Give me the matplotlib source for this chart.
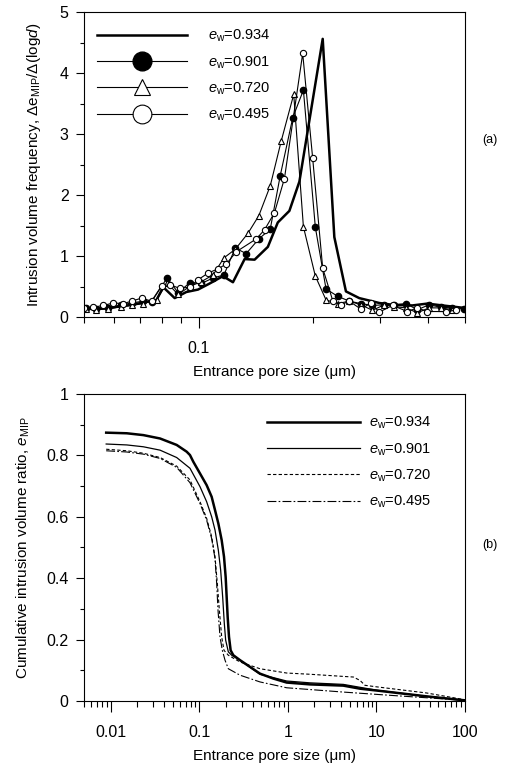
import numpy as np
import matplotlib
matplotlib.use('Agg')
import matplotlib.pyplot as plt
from matplotlib.ticker import FixedLocator, FixedFormatter, NullFormatter, MultipleLocator, LogLocator

plt.rcParams['font.family'] = ['Liberation Sans', 'DejaVu Sans']
plt.rcParams['mathtext.fontset'] = 'custom'
plt.rcParams['mathtext.rm'] = 'Liberation Sans'
plt.rcParams['mathtext.it'] = 'Liberation Sans:italic'
plt.rcParams['font.size'] = 11

# ---- (a) intrusion volume frequency ----
labels = ['0.934', '0.901', '0.720', '0.495']

x934 = [0.0506, 0.0579, 0.0667, 0.0775, 0.0807, 0.0865, 0.0928, 0.0996, 0.1069, 0.1158,
        0.1230, 0.1320, 0.1402, 0.1519, 0.1613, 0.1730, 0.1838, 0.2116, 0.2270, 0.2435,
        0.2639, 0.2978, 0.3227, 0.364, 0.3981, 0.436, 0.4967]
y934 = [0.13, 0.15, 0.20, 0.28, 0.49, 0.31, 0.41, 0.45, 0.55, 0.67,
        0.57, 0.95, 0.94, 1.15, 1.55, 1.74, 2.22, 4.56, 1.31, 0.42,
        0.31, 0.23, 0.20, 0.19, 0.22, 0.19, 0.15]

x901 = [0.0506, 0.0536, 0.0579, 0.0627, 0.0667, 0.0715, 0.0752, 0.0826, 0.0883, 0.0947,
        0.1016, 0.1091, 0.1165, 0.1247, 0.1333, 0.1438, 0.1541, 0.1636, 0.1766, 0.1883,
        0.2024, 0.2159, 0.2316, 0.2485, 0.2665, 0.2859, 0.3069, 0.3259, 0.3497, 0.3750,
        0.4025, 0.4318, 0.4634, 0.4967]
y901 = [0.147, 0.131, 0.147, 0.20, 0.23, 0.26, 0.25, 0.64, 0.40, 0.56,
        0.55, 0.64, 0.69, 1.13, 1.04, 1.28, 1.44, 2.31, 3.27, 3.72,
        1.47, 0.46, 0.34, 0.26, 0.22, 0.19, 0.20, 0.20, 0.22, 0.12,
        0.20, 0.16, 0.15, 0.13]

x720 = [0.0506, 0.0536, 0.0579, 0.0627, 0.0667, 0.0715, 0.0775, 0.0826, 0.0883, 0.0947,
        0.1016, 0.1091, 0.1165, 0.1247, 0.1346, 0.1438, 0.1541, 0.1646, 0.1776, 0.1883,
        0.2024, 0.2159, 0.2316, 0.2485, 0.2665, 0.2859, 0.3069, 0.3259, 0.3497, 0.3750,
        0.4025, 0.4318, 0.4634]
y720 = [0.13, 0.12, 0.13, 0.17, 0.19, 0.22, 0.28, 0.56, 0.37, 0.50,
        0.58, 0.69, 0.97, 1.11, 1.37, 1.66, 2.15, 2.88, 3.65, 1.48,
        0.67, 0.28, 0.22, 0.26, 0.20, 0.11, 0.20, 0.17, 0.15, 0.07,
        0.15, 0.15, 0.12]

x495 = [0.0500, 0.0529, 0.0562, 0.0597, 0.0634, 0.0667, 0.0708, 0.0752, 0.0799, 0.0840,
        0.0891, 0.0947, 0.0996, 0.1058, 0.1124, 0.1182, 0.1255, 0.1416, 0.1489, 0.1581,
        0.1679, 0.1875, 0.1991, 0.2116, 0.2248, 0.2364, 0.2485, 0.2665, 0.2832, 0.2978,
        0.3227, 0.3531, 0.3750, 0.3981, 0.4447, 0.4729]
y495 = [0.15, 0.16, 0.19, 0.23, 0.22, 0.26, 0.31, 0.26, 0.51, 0.53,
        0.47, 0.49, 0.61, 0.72, 0.79, 0.87, 1.07, 1.28, 1.43, 1.71,
        2.27, 4.32, 2.61, 0.80, 0.27, 0.20, 0.26, 0.13, 0.23, 0.08,
        0.19, 0.09, 0.15, 0.09, 0.09, 0.11]

# ---- (b) cumulative intrusion volume ratio ----
cx934 = [0.0089, 0.0152, 0.0234, 0.0361, 0.0556, 0.0721, 0.0786, 0.0858, 0.102, 0.1212,
         0.1381, 0.1506, 0.1643, 0.1791, 0.1903, 0.1987, 0.2039, 0.2093, 0.2167, 0.2262,
         0.2425, 0.2884, 0.3741, 0.485, 0.686, 0.97, 1.78, 4.23, 6.53, 10.07, 36.9, 100]
cy934 = [0.874, 0.872, 0.866, 0.855, 0.834, 0.812, 0.801, 0.779, 0.741, 0.703,
         0.665, 0.622, 0.578, 0.524, 0.470, 0.404, 0.339, 0.274, 0.209, 0.165,
         0.149, 0.133, 0.111, 0.089, 0.073, 0.060, 0.054, 0.050, 0.040, 0.034, 0.015, 0.002]

cx901 = [0.0089, 0.0152, 0.0234, 0.0361, 0.0556, 0.0786, 0.102, 0.1212, 0.1381, 0.1506,
         0.1643, 0.1745, 0.1838, 0.1919, 0.1987, 0.2130, 0.2322, 0.2884, 0.485, 0.97,
         1.78, 4.23, 10.07, 36.9, 100]
cy901 = [0.837, 0.834, 0.828, 0.817, 0.793, 0.758, 0.698, 0.649, 0.600, 0.557,
         0.491, 0.426, 0.339, 0.252, 0.198, 0.160, 0.149, 0.133, 0.087, 0.065,
         0.059, 0.054, 0.035, 0.015, 0.002]

cx720 = [0.0089, 0.0152, 0.0234, 0.0361, 0.0556, 0.0786, 0.102, 0.1212, 0.1381, 0.1506,
         0.160, 0.1686, 0.1791, 0.1903, 0.2130, 0.2884, 0.485, 0.97, 1.78, 4.23,
         5.49, 6.53, 7.43, 10.07, 36.9, 100]
cy720 = [0.820, 0.815, 0.807, 0.793, 0.765, 0.720, 0.649, 0.595, 0.535, 0.470,
         0.383, 0.296, 0.209, 0.165, 0.149, 0.127, 0.105, 0.091, 0.087, 0.080,
         0.078, 0.067, 0.051, 0.046, 0.026, 0.004]

cx495 = [0.0089, 0.0152, 0.0234, 0.0361, 0.0556, 0.0786, 0.102, 0.1212, 0.1381, 0.1506,
         0.1573, 0.1628, 0.1715, 0.1822, 0.1953, 0.2130, 0.2884, 0.485, 0.97, 4.23,
         15, 100]
cy495 = [0.815, 0.811, 0.804, 0.790, 0.761, 0.711, 0.643, 0.589, 0.529, 0.464,
         0.383, 0.296, 0.209, 0.165, 0.133, 0.105, 0.084, 0.062, 0.043, 0.029,
         0.018, 0.002]

fig = plt.figure(figsize=(5.26, 7.65), dpi=100)
ax1 = fig.add_axes([0.1597, 0.5856, 0.7243, 0.3987])
ax2 = fig.add_axes([0.1597, 0.0837, 0.7243, 0.4013])

lw = 0.8
ax1.plot(x934, y934, color='black', lw=1.8, label=r'$e_{\rm w}$=' + labels[0])
ax1.plot(x901, y901, color='black', lw=lw, marker='o', ms=4.5, mfc='black', mec='black',
         label=r'$e_{\rm w}$=' + labels[1])
ax1.plot(x720, y720, color='black', lw=lw, marker='^', ms=4, mfc='white', mec='black', mew=0.8,
         label=r'$e_{\rm w}$=' + labels[2])
ax1.plot(x495, y495, color='black', lw=lw, marker='o', ms=4.5, mfc='white', mec='black', mew=0.8,
         label=r'$e_{\rm w}$=' + labels[3])

ax1.set_xscale('log')
ax1.set_xlim(0.05, 0.5)
ax1.set_ylim(0, 5)
ax1.xaxis.set_major_locator(FixedLocator([0.1]))
ax1.xaxis.set_major_formatter(FixedFormatter(['0.1']))
ax1.xaxis.set_minor_locator(FixedLocator([0.05, 0.06, 0.07, 0.08, 0.09, 0.2, 0.3, 0.4, 0.5]))
ax1.xaxis.set_minor_formatter(NullFormatter())
ax1.yaxis.set_major_locator(MultipleLocator(1))
ax1.yaxis.set_minor_locator(MultipleLocator(0.5))
ax1.set_xlabel('Entrance pore size (μm)', labelpad=7)
ax1.set_ylabel(r'Intrusion volume frequency, $\Delta$e$_{\rm MIP}$/$\Delta$(log$d$)', labelpad=12)
ax1.legend(loc='upper left', bbox_to_anchor=(0.034, 0.948), borderpad=0, borderaxespad=0,
           frameon=False, handlelength=6.2, handletextpad=1.4, labelspacing=0.68,
           markerscale=3.0, fontsize=10.5)

styles = [dict(lw=1.8, ls='-'), dict(lw=0.9, ls='-'), dict(lw=0.8, ls=(0, (3, 2))),
          dict(lw=0.8, ls=(0, (8, 2, 1.5, 2)))]
for (cx, cy), lab, st in zip([(cx934, cy934), (cx901, cy901), (cx720, cy720), (cx495, cy495)],
                             labels, styles):
    ax2.plot(cx, cy, color='black', label=r'$e_{\rm w}$=' + lab, **st)

ax2.set_xscale('log')
ax2.set_xlim(0.005, 100)
ax2.set_ylim(0, 1)
ax2.set_xticks([0.01, 0.1, 1, 10, 100])
ax2.set_xticklabels(['0.01', '0.1', '1', '10', '100'])
ax2.xaxis.set_minor_locator(LogLocator(base=10, subs=np.arange(2, 10), numticks=20))
ax2.xaxis.set_minor_formatter(NullFormatter())
ax2.set_yticks([0, 0.2, 0.4, 0.6, 0.8, 1.0])
ax2.set_yticklabels(['0', '0.2', '0.4', '0.6', '0.8', '1'])
ax2.yaxis.set_minor_locator(MultipleLocator(0.1))
ax2.set_xlabel('Entrance pore size (μm)', labelpad=7)
ax2.set_ylabel(r'Cumulative intrusion volume ratio, $e_{\rm MIP}$', labelpad=10)
ax2.legend(loc='upper left', bbox_to_anchor=(0.48, 0.932), borderpad=0, borderaxespad=0,
           frameon=False, handlelength=6.4, handletextpad=0.6, labelspacing=0.68,
           fontsize=10.5)

for ax in (ax1, ax2):
    ax.tick_params(axis='x', which='major', direction='out', length=8, width=0.8,
                   pad=9, labelsize=11.5)
    ax.tick_params(axis='x', which='minor', direction='out', length=4, width=0.8)
    ax.tick_params(axis='y', which='major', direction='out', length=6, width=0.8,
                   pad=5, labelsize=11.5)
    ax.tick_params(axis='y', which='minor', direction='out', length=3, width=0.8)
    for sp in ax.spines.values():
        sp.set_linewidth(0.8)

fig.text(0.932, 0.817, '(a)', fontsize=9, ha='center', va='center')
fig.text(0.932, 0.288, '(b)', fontsize=9, ha='center', va='center')

fig.savefig('out.png', dpi=100)
